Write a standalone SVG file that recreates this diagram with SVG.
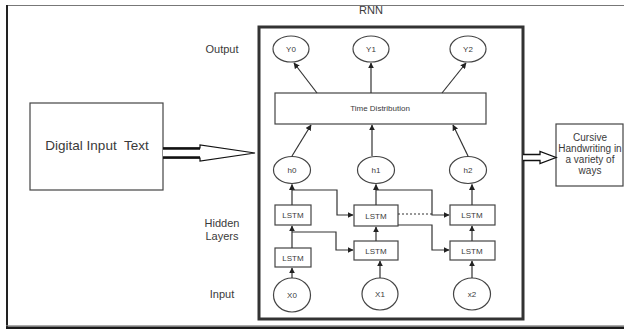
<svg xmlns="http://www.w3.org/2000/svg" width="624" height="329" viewBox="0 0 624 329">
  <defs>
    <marker id="ah" viewBox="0 0 10 10" refX="9" refY="5" markerWidth="6" markerHeight="6" markerUnits="userSpaceOnUse" orient="auto">
      <path d="M0,0 L10,5 L0,10 z" fill="#222"/>
    </marker>
    <style>
      .box { fill: #fff; stroke: #444; stroke-width: 1.2; }
      .node { fill: #fff; stroke: #444; stroke-width: 1.2; }
      .edge { fill: none; stroke: #333; stroke-width: 1.2; marker-end: url(#ah); }
      .dash { fill: none; stroke: #333; stroke-width: 1.2; stroke-dasharray: 2 2; }
      .t { font-family: "Liberation Sans", Arial, sans-serif; fill: #3a3a3a; text-anchor: middle; }
      .s8 { font-size: 8px; }
      .s10 { font-size: 10px; }
      .s11 { font-size: 11px; }
    </style>
  </defs>

  <rect width="624" height="329" fill="#fff"/>

  <!-- page frame -->
  <g id="frame">
    <line x1="6" y1="5.5" x2="624" y2="5.5" stroke="#777" stroke-width="1.2"/>
    <line x1="7" y1="5" x2="7" y2="327" stroke="#222" stroke-width="2"/>
    <line x1="6" y1="325.8" x2="624" y2="325.8" stroke="#888" stroke-width="1"/>
    <rect x="6" y="326.5" width="618" height="3" fill="#1a1a1a"/>
  </g>

  <!-- RNN container -->
  <g id="rnn">
    <rect x="259" y="27" width="264" height="292" fill="none" stroke="#333" stroke-width="3"/>
    <text class="t s11" x="371" y="14">RNN</text>
  </g>

  <!-- side labels -->
  <g id="labels">
    <text class="t s11" x="222" y="53">Output</text>
    <text class="t s11" x="222" y="227">Hidden</text>
    <text class="t s11" x="222" y="240">Layers</text>
    <text class="t s11" x="222" y="298">Input</text>
  </g>

  <!-- input and output blocks -->
  <g id="digital-input">
    <rect class="box" x="30" y="103" width="133" height="87"/>
    <text class="t" x="97" y="150" font-size="13.5" xml:space="preserve">Digital Input  Text</text>
  </g>
  <g id="cursive-output">
    <rect class="box" x="556" y="124" width="67" height="62"/>
    <text class="t s10" x="590" y="141">Cursive</text>
    <text class="t s10" x="590" y="152">Handwriting in</text>
    <text class="t s10" x="590" y="163">a variety of</text>
    <text class="t s10" x="590" y="174">ways</text>
  </g>

  <!-- outputs -->
  <g id="Y0"><ellipse class="node" cx="291" cy="49" rx="18" ry="13"/><text class="t s8" x="291" y="52">Y0</text></g>
  <g id="Y1"><ellipse class="node" cx="371" cy="49" rx="18" ry="13"/><text class="t s8" x="371" y="52">Y1</text></g>
  <g id="Y2"><ellipse class="node" cx="468" cy="49" rx="18" ry="13"/><text class="t s8" x="468" y="52">Y2</text></g>

  <g id="time-distribution">
    <rect class="box" x="275" y="93" width="211" height="31"/>
    <text class="t s8" x="380" y="111">Time Distribution</text>
  </g>

  <!-- hidden states -->
  <g id="h0"><ellipse class="node" cx="292" cy="170" rx="18.5" ry="13.5"/><text class="t s8" x="292" y="173">h0</text></g>
  <g id="h1"><ellipse class="node" cx="376" cy="170" rx="18.5" ry="13.5"/><text class="t s8" x="376" y="173">h1</text></g>
  <g id="h2"><ellipse class="node" cx="468" cy="170" rx="18.5" ry="13.5"/><text class="t s8" x="468" y="173">h2</text></g>

  <!-- LSTM cells -->
  <g id="lstm-a1"><rect class="box" x="275" y="205" width="36" height="20"/><text class="t s8" x="293" y="218">LSTM</text></g>
  <g id="lstm-a0"><rect class="box" x="275" y="248" width="36" height="19"/><text class="t s8" x="293" y="260.5">LSTM</text></g>
  <g id="lstm-b1"><rect class="box" x="354" y="205" width="44" height="21"/><text class="t s8" x="376" y="218.5">LSTM</text></g>
  <g id="lstm-b0"><rect class="box" x="354" y="241" width="44" height="19"/><text class="t s8" x="376" y="253.5">LSTM</text></g>
  <g id="lstm-c1"><rect class="box" x="450" y="205" width="45" height="20"/><text class="t s8" x="472" y="218">LSTM</text></g>
  <g id="lstm-c0"><rect class="box" x="450" y="241" width="45" height="19"/><text class="t s8" x="472" y="253.5">LSTM</text></g>

  <!-- inputs -->
  <g id="X0"><ellipse class="node" cx="292" cy="295" rx="18.5" ry="17"/><text class="t s8" x="292" y="298">X0</text></g>
  <g id="X1"><ellipse class="node" cx="380" cy="294" rx="18" ry="16"/><text class="t s8" x="380" y="297">X1</text></g>
  <g id="x2"><ellipse class="node" cx="472" cy="294" rx="18.5" ry="16"/><text class="t s8" x="472" y="297">x2</text></g>

  <!-- connectors -->
  <g id="connectors">
    <!-- time distribution to outputs -->
    <line class="edge" x1="317" y1="93" x2="294" y2="63"/>
    <line class="edge" x1="371" y1="93" x2="371" y2="63"/>
    <line class="edge" x1="442" y1="93" x2="466" y2="63"/>
    <!-- hidden states to time distribution -->
    <line class="edge" x1="292" y1="156" x2="311" y2="125"/>
    <line class="edge" x1="372" y1="156" x2="372" y2="125"/>
    <line class="edge" x1="468" y1="156" x2="453" y2="125"/>
    <!-- vertical flow -->
    <line class="edge" x1="292" y1="278" x2="292" y2="268"/>
    <line class="edge" x1="292" y1="248" x2="292" y2="226"/>
    <line class="edge" x1="292" y1="205" x2="292" y2="184.5"/>
    <line class="edge" x1="380" y1="278" x2="380" y2="261"/>
    <line class="edge" x1="376" y1="241" x2="376" y2="227"/>
    <line class="edge" x1="376" y1="205" x2="376" y2="184.5"/>
    <line class="edge" x1="472" y1="278" x2="472" y2="261"/>
    <line class="edge" x1="472" y1="241" x2="472" y2="226"/>
    <line class="edge" x1="472" y1="205" x2="472" y2="184.5"/>
    <!-- skip connections -->
    <path class="edge" d="M292,190 H337 V215 H353"/>
    <path class="edge" d="M292,232 H336 V250 H353"/>
    <path class="edge" d="M376,190 H432 V215 H449"/>
    <path class="edge" d="M398,225 H432 V250 H449"/>
    <line class="dash" x1="398" y1="214" x2="432" y2="214"/>
  </g>

  <!-- hollow block arrows -->
  <g id="arrow-in">
    <path d="M163,148 H200 V145 L255,153 L200,161 V158 H163" fill="#fff" stroke="#111" stroke-width="1.2"/>
    <line x1="163" y1="148.5" x2="200" y2="148.5" stroke="#111" stroke-width="2.5"/>
    <line x1="163" y1="157.5" x2="200" y2="157.5" stroke="#111" stroke-width="2.5"/>
  </g>
  <g id="arrow-out">
    <path d="M523,154.5 H540 V151.5 L556,157.5 L540,163.5 V160.5 H523" fill="#fff" stroke="#111" stroke-width="1.3"/>
  </g>
</svg>
